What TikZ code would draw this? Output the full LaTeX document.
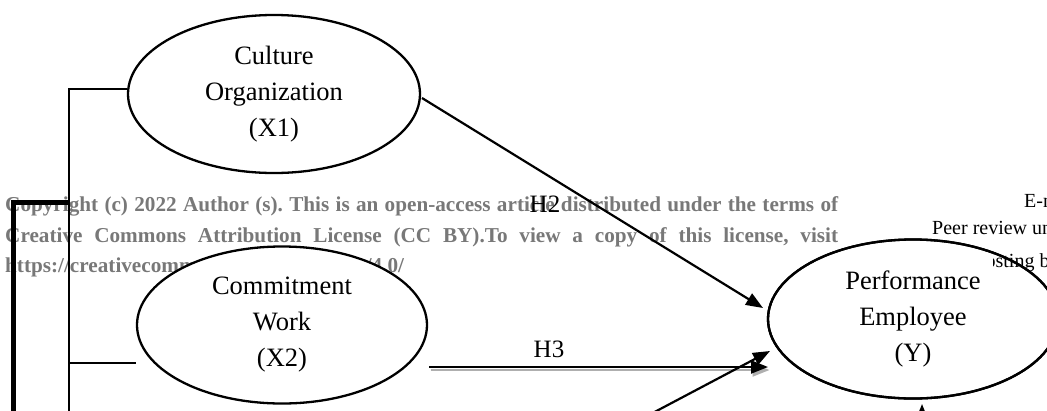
\documentclass[tikz,border=0pt]{standalone}
\usepackage{fontspec}
\setmainfont{Liberation Serif}
\usetikzlibrary{shapes.geometric,arrows.meta}
\definecolor{wmgray}{RGB}{120,120,120}
\definecolor{shadowgray}{RGB}{175,175,175}
\frenchspacing
\begin{document}
\begin{tikzpicture}[x=1pt,y=-1pt,
  construct/.style={ellipse,draw=black,line width=2.3pt,fill=white,inner sep=0pt,
     align=center,font=\fontsize{26.5}{36}\selectfont},
  wmtext/.style={anchor=base west,inner sep=0pt,text=wmgray,font=\fontsize{21.2}{25}\selectfont\bfseries},
  sidetext/.style={anchor=base west,inner sep=0pt,text=black,font=\fontsize{20}{24}\selectfont},
  link/.style={line width=1.9pt},
  thicklink/.style={line width=5pt},
  hyp/.style={line width=2.2pt,-{Triangle[length=17pt,width=13pt]}},
  hyplabel/.style={anchor=base,inner sep=0pt,font=\fontsize{25}{30}\selectfont}]
\useasboundingbox (0,0) rectangle (1047,410);
\clip (0,0) rectangle (1047,410);
% background texts
\node[wmtext] (wm1) at (5,211) {\makebox[833pt][s]{Copyright (c) 2022 Author (s). This is an open-access article distributed under the terms of}};
\node[wmtext] (wm2) at (5,242) {\makebox[833pt][s]{Creative Commons Attribution License (CC BY).To view a copy of this license, visit}};
\node[wmtext] (wm3) at (5,272) {https://creativecommons.org/licenses/by/4.0/};
\node[sidetext] (s1) at (1024,207) {E-mail address};
\node[sidetext] (s2) at (932,234) {Peer review under responsibility};
% constructs
\node[construct,minimum width=292pt,minimum height=158pt] (x1) at (274,94) {Culture\\Organization\\(X1)};
\node[construct,minimum width=290pt,minimum height=157pt] (x2) at (282,325) {Commitment\\Work\\(X2)};
\node[construct,minimum width=290pt,minimum height=159pt] (y) at (913,319) {Performance\\Employee\\(Y)};
% partly hidden side text over the ellipse, then its border again
\begin{scope}
  \clip (993,240) rectangle (1047,280);
  \node[sidetext] (s3) at (971,267) {Hosting by};
\end{scope}
\node[construct,fill=none,minimum width=290pt,minimum height=159pt] (yb) at (y) {};
% left bracket lines
\coordinate (b1) at (69,89);
\coordinate (b2) at (69,420);
\coordinate (b3) at (69,363);
\draw[link] (x1.west |- b1) -- (b1) -- (b2);
\draw[link] (b3) -- (x2.west |- b3);
\coordinate (t1) at (69,202);
\coordinate (t2) at (13,202);
\coordinate (t3) at (13,420);
\draw[thicklink] (t1) -- (t2) -- (t3);
% hypotheses
\coordinate (h2s) at (422,98);
\coordinate (h2e) at (763,308);
\draw[hyp] (h2s) -- (h2e);
\node[hyplabel] (h2) at (545,212) {H2};
\coordinate (h3s) at (429,367);
\coordinate (h3e) at (768,367);
\draw[hyp,draw=shadowgray,fill=shadowgray] ([shift={(1.5,3)}]h3s) -- ([shift={(1.5,3)}]h3e);
\draw[hyp] (h3s) -- (h3e);
\node[hyplabel] (h3) at (549,357) {H3};
\coordinate (h4s) at (630,425);
\coordinate (h4e) at (770,351);
\draw[hyp] (h4s) -- (h4e);
\coordinate (h5s) at (922,445);
\coordinate (h5e) at (922,404);
\draw[hyp] (h5s) -- (h5e);
\end{tikzpicture}
\end{document}
